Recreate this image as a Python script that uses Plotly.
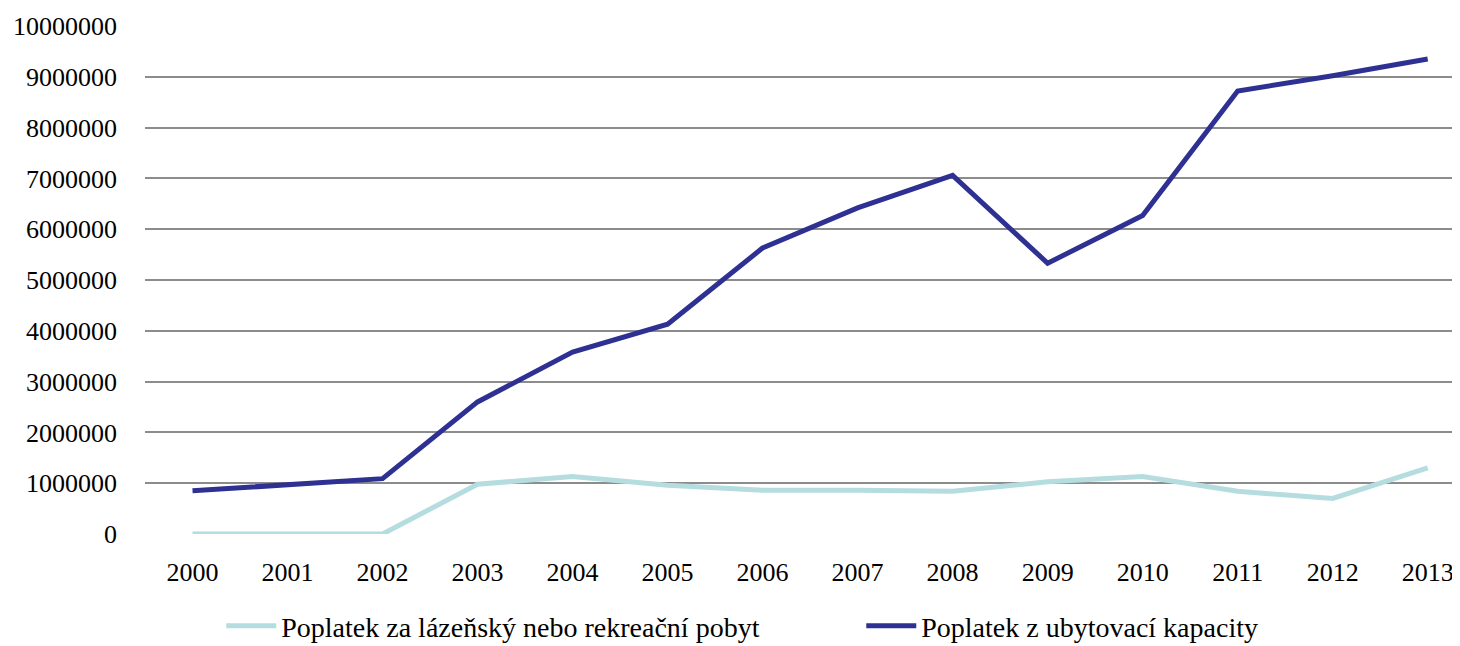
import plotly.graph_objects as go

years = [str(y) for y in range(2000, 2014)]
lazensky = [0, 0, 0, 980000, 1130000, 960000, 860000, 860000, 840000, 1030000, 1130000, 840000, 700000, 1300000]
ubytovaci = [850000, 970000, 1090000, 2600000, 3580000, 4130000, 5630000, 6420000, 7060000, 5330000, 6270000, 8720000, 9020000, 9350000]
tick_vals = list(range(0, 10000001, 1000000))
tick_text = [str(v) for v in tick_vals]

FONT = "Liberation Serif"

fig = go.Figure()
fig.add_trace(go.Scatter(x=years, y=lazensky, mode="lines",
                         name="Poplatek za lázeňský nebo rekreační pobyt",
                         line=dict(color="#b5dde0", width=5)))
fig.add_trace(go.Scatter(x=years, y=ubytovaci, mode="lines",
                         name="Poplatek z ubytovací kapacity",
                         line=dict(color="#2e3192", width=5)))

fig.update_layout(
    width=1452, height=638,
    margin=dict(l=137, r=0, t=18, b=112, autoexpand=False),
    plot_bgcolor="white", paper_bgcolor="white",
    font=dict(family=FONT, size=26, color="#000000"),
    showlegend=True,
    legend=dict(orientation="h", x=0.058, xanchor="left", y=-0.181, yanchor="middle",
                entrywidth=575, entrywidthmode="pixels",
                font=dict(family=FONT, size=28), bgcolor="rgba(0,0,0,0)",
                itemwidth=50),
    xaxis=dict(type="category", range=[-0.5, 13.34], showgrid=False, zeroline=False,
               showline=False, ticks="", ticklabelstandoff=20, automargin=False,
               tickfont=dict(family=FONT, size=26)),
    yaxis=dict(range=[0, 10000000], tickvals=tick_vals, ticktext=tick_text,
               showgrid=True, gridcolor="#8c8c8c", gridwidth=2, zeroline=False,
               showline=False, ticks="", ticklabelstandoff=27, automargin=False,
               tickfont=dict(family=FONT, size=26)),
)

fig.write_html("out.html")
